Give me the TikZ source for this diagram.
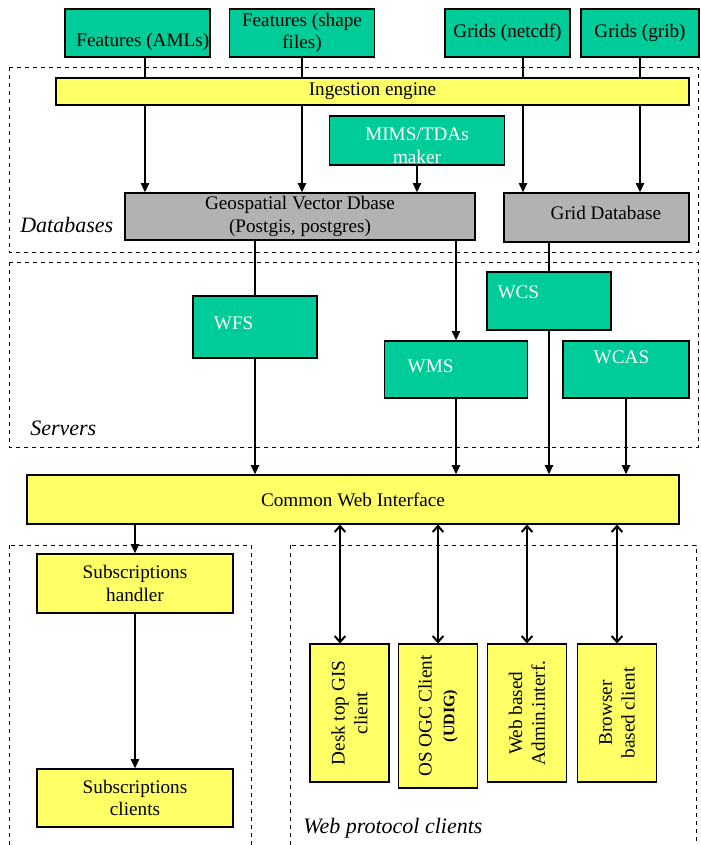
\documentclass[tikz,border=0pt]{standalone}
\usepackage{fontspec}
\setmainfont{Liberation Serif}
\usetikzlibrary{arrows.meta}
\definecolor{boxgreen}{RGB}{0,204,153}
\definecolor{boxyellow}{RGB}{255,255,102}
\definecolor{boxgrey}{RGB}{178,178,178}
\tikzset{
  txt/.style={font=\fontsize{14.4}{17}\selectfont, align=center},
  box/.style={txt, thick, shape=rectangle, draw=black, inner sep=2pt},
  greenbox/.style={box, fill=boxgreen},
  yellowbox/.style={box, fill=boxyellow},
  greybox/.style={box, fill=boxgrey},
  group/.style={draw=black, dashed, thin},
  grouplabel/.style={font=\fontsize{16.5}{19}\selectfont\itshape, anchor=west, inner sep=0pt},
  link/.style={line width=1.5pt},
  flow/.style={link, -{Triangle[length=7pt,width=6pt]}},
  twoway/.style={link, {Straight Barb[length=4.5pt,width=8pt]}-{Straight Barb[length=4.5pt,width=8pt]}}
}
\begin{document}
\begin{tikzpicture}[x=0.75pt, y=-0.75pt]
\useasboundingbox (0,0) rectangle (700,845);

% groups
\draw[group] (9,67) rectangle (698,252);
\draw[group] (9,262) rectangle (698,447);
\draw[group] (9,545) rectangle (251,850);
\draw[group] (290,545) rectangle (696,850);
\node[grouplabel] (dblabel) at (20,225) {Databases};
\node[grouplabel] (srvlabel) at (30,428) {Servers};
\node[grouplabel] (weblabel) at (303,828) {Web protocol clients};

% data sources
\node[greenbox, minimum width=108.75pt, minimum height=36pt, label={[txt, xshift=4pt, yshift=-6.5pt]center:Features (AMLs)}] (aml) at (137.5,33) {};
\node[greenbox, minimum width=108.75pt, minimum height=36pt] (shp) at (302,33) {Features (shape\\files)};
\node[greenbox, minimum width=93.75pt, minimum height=36pt] (nc) at (507.5,33) {Grids (netcdf)};
\node[greenbox, minimum width=88.5pt, minimum height=36pt] (grib) at (640,33) {Grids (grib)};

% databases
\node[greenbox, minimum width=131.25pt, minimum height=36.75pt, label={[txt, white, yshift=-3.75pt]center:MIMS/TDAs\\maker}] (mims) at (417,140.5) {};
\node[greybox, minimum width=262.5pt, minimum height=35.25pt] (geo) at (300,216.5) {Geospatial Vector Dbase\\(Postgis, postgres)};
\node[greybox, minimum width=138.75pt, minimum height=36.75pt, label={[txt, xshift=7pt, yshift=3.4pt]center:Grid Database}] (gdb) at (596.5,217.5) {};

% servers
\node[greenbox, minimum width=93pt, minimum height=46.5pt, label={[txt, white, xshift=-16pt, yshift=3pt]center:WFS}] (wfs) at (255,327) {};
\node[greenbox, minimum width=93pt, minimum height=43.5pt, label={[txt, white, xshift=-23pt, yshift=6.75pt]center:WCS}] (wcs) at (549,301) {};
\node[greenbox, minimum width=107.25pt, minimum height=42.75pt, label={[txt, white, xshift=-19pt, yshift=2.6pt]center:WMS}] (wms) at (456,369.5) {};
\node[greenbox, minimum width=94.5pt, minimum height=42.75pt, label={[txt, white, xshift=-3.4pt, yshift=9.4pt]center:WCAS}] (wcas) at (626,369.5) {};

\node[yellowbox, minimum width=489pt, minimum height=36.75pt] (cwi) at (353,499.5) {Common Web Interface};

% subscriptions
\node[yellowbox, minimum width=147pt, minimum height=44.25pt] (hnd) at (135,583.5) {Subscriptions\\handler};
\node[yellowbox, minimum width=147pt, minimum height=43.5pt] (subcl) at (135,798) {Subscriptions\\clients};

% web clients
\node[yellowbox, minimum width=59.25pt, minimum height=103.5pt, label={[txt, rotate=90]center:Desk top GIS\\client}] (desk) at (349.5,713) {};
\node[yellowbox, minimum width=59.25pt, minimum height=108pt, label={[txt, rotate=90]center:OS OGC Client\\{\fontsize{12}{14}\selectfont\bfseries (UDIG)}}] (ogc) at (438,716) {};
\node[yellowbox, minimum width=59.25pt, minimum height=103.5pt, label={[txt, rotate=90]center:Web based\\Admin.interf.}] (admin) at (527,713) {};
\node[yellowbox, minimum width=59.25pt, minimum height=103.5pt, label={[txt, rotate=90]center:Browser\\based client}] (browser) at (617,713) {};

% feeds, drawn before the ingestion engine so that it covers them
\coordinate (amlout) at ([xshift=5.625pt]aml.south);
\coordinate (ncout) at ([xshift=11.625pt]nc.south);
\draw[flow] (amlout) -- (amlout |- geo.north);
\draw[flow] (shp.south) -- (shp.south |- geo.north);
\draw[flow] (ncout) -- (ncout |- gdb.north);
\draw[flow] (grib.south) -- (grib.south |- gdb.north);
\draw[flow] (mims.south) -- (mims.south |- geo.north);
\node[yellowbox, minimum width=474.75pt, minimum height=20.25pt, inner sep=0pt] (ingest) at (372.5,91.5) {Ingestion engine};

% services
\draw[link] (geo.south -| wfs.north) -- (wfs.north);
\draw[flow] (wfs.south) -- (wfs.south |- cwi.north);
\draw[flow] (geo.south -| wms.north) -- (wms.north);
\draw[flow] (wms.south) -- (wms.south |- cwi.north);
\draw[link] (gdb.south -| wcs.north) -- (wcs.north);
\draw[flow] (wcs.south) -- (wcs.south |- cwi.north);
\draw[flow] (wcas.south) -- (wcas.south |- cwi.north);

% clients
\draw[flow] (cwi.south -| hnd.north) -- (hnd.north);
\draw[flow] (hnd) -- (subcl);
\coordinate (deskin) at ([xshift=-7.125pt]desk.north);
\draw[twoway] (cwi.south -| deskin) -- (deskin);
\draw[twoway] (cwi.south -| ogc.north) -- (ogc.north);
\draw[twoway] (cwi.south -| admin.north) -- (admin.north);
\draw[twoway] (cwi.south -| browser.north) -- (browser.north);
\end{tikzpicture}
\end{document}
